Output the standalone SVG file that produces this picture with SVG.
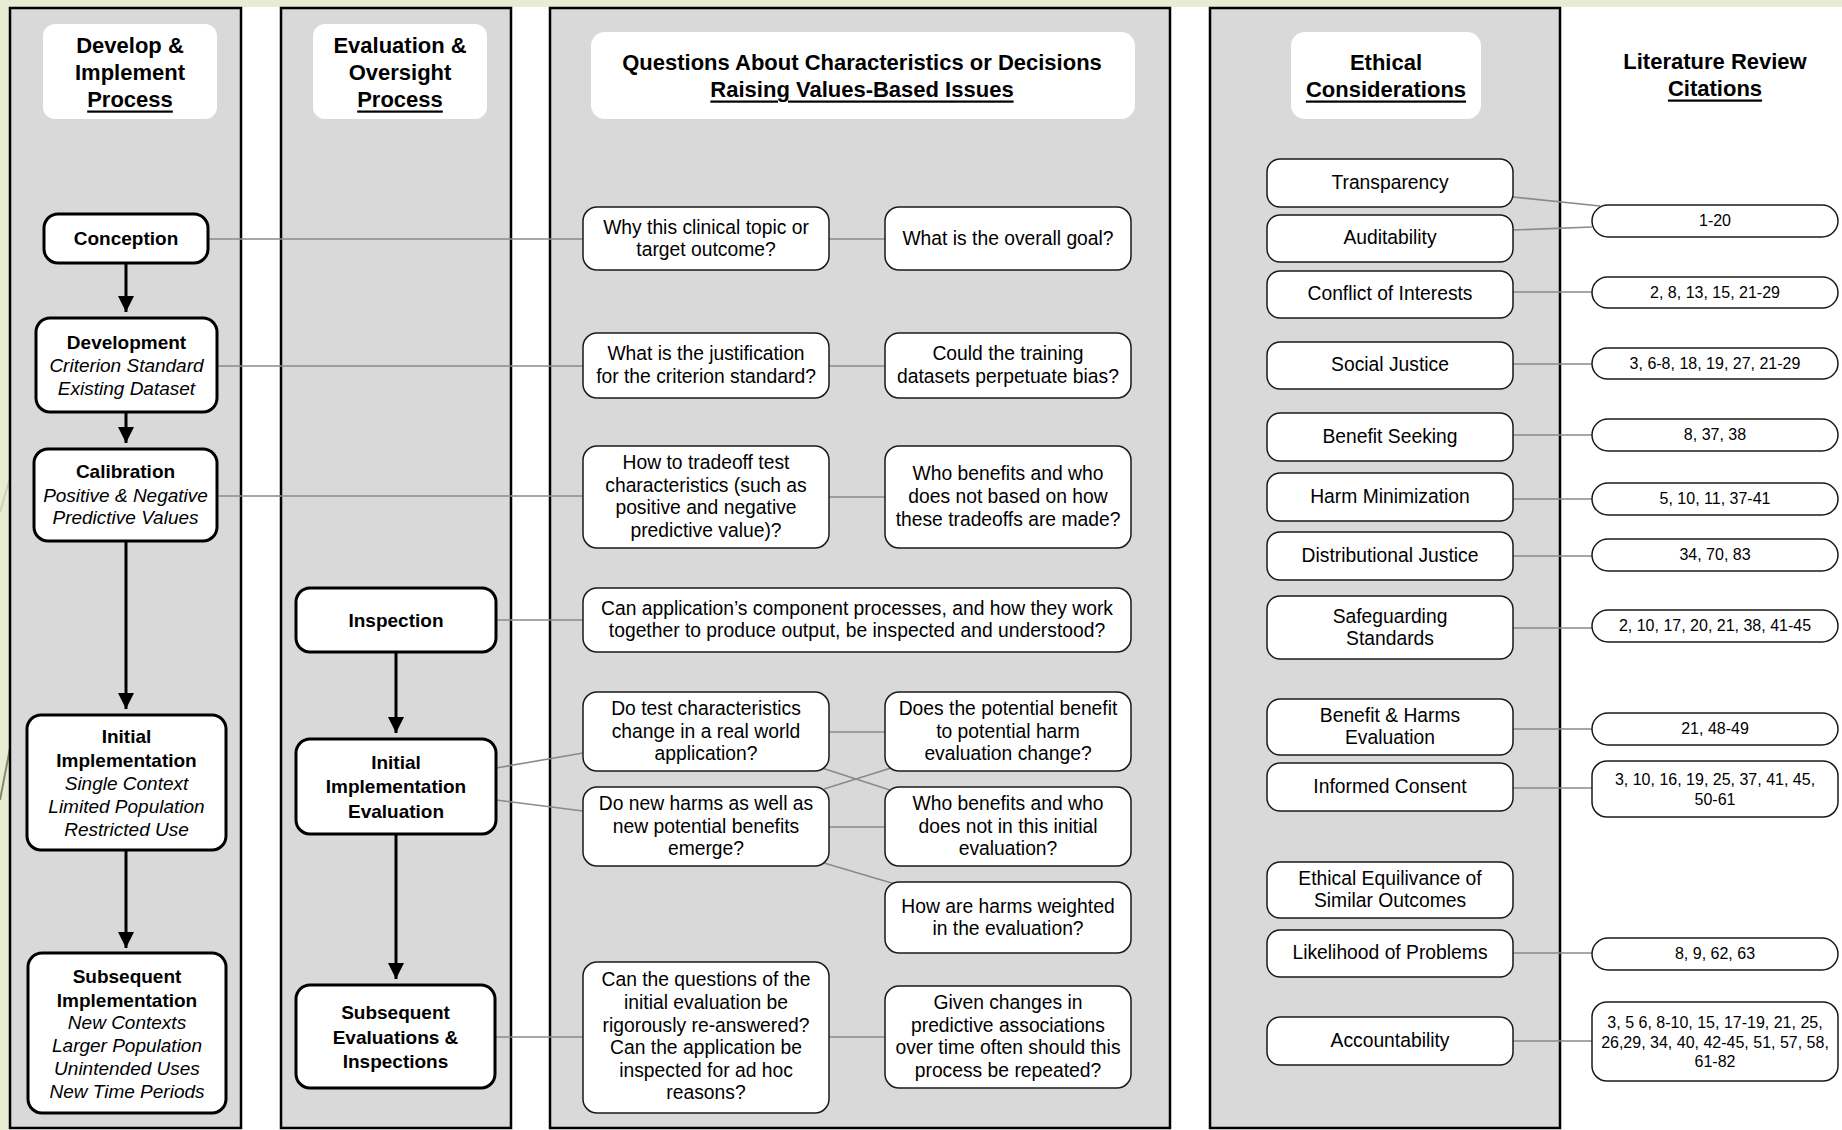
<svg xmlns="http://www.w3.org/2000/svg" width="1842" height="1130" viewBox="0 0 1842 1130">
<defs>
<style>
text{font-family:"Liberation Sans",Arial,sans-serif;text-anchor:middle;dominant-baseline:central;fill:#000;transform:translateY(-1px)}
.panel{fill:#d9d9d9;stroke:#000;stroke-width:2.5}
.hbox{fill:#fff;stroke:none}
.hdr{font-size:22px;font-weight:bold}
.u{text-decoration:underline}
.pnode{fill:#fff;stroke:#000;stroke-width:3}
.pb{font-size:19px;font-weight:bold}
.pi{font-size:19px;font-style:italic}
.qnode{fill:#fff;stroke:#1a1a1a;stroke-width:1.5}
.q{font-size:19.3px}
.c{font-size:16px}
.conn line{stroke:#8a8a8a;stroke-width:1.6}
.arr line{stroke:#000;stroke-width:3}
</style>
<marker id="ah" markerWidth="16" markerHeight="18" refX="16" refY="9" orient="auto" markerUnits="userSpaceOnUse">
<path d="M0,1 L16,9 L0,17 Z" fill="#000"/>
</marker>
</defs>
<rect x="0" y="0" width="1842" height="1130" fill="#fff"/>
<rect x="0" y="0" width="1842" height="7" fill="#e8ecd4"/>
<rect x="0" y="0" width="10" height="1130" fill="#e8ecd4"/>
<line x1="0" y1="512" x2="10" y2="478" stroke="#cfd0b8" stroke-width="2"/>
<line x1="0" y1="800" x2="10" y2="748" stroke="#8c876a" stroke-width="2"/>

<g id="panels">
<rect class="panel" x="10" y="8" width="231" height="1120"/>
<rect class="panel" x="281" y="8" width="230" height="1120"/>
<rect class="panel" x="550" y="8" width="620" height="1120"/>
<rect class="panel" x="1210" y="8" width="350" height="1120"/>
</g>

<g id="headers">
<rect class="hbox" x="43" y="24" width="174" height="95" rx="12"/>
<text class="hdr" x="130" y="46">Develop &amp;</text>
<text class="hdr" x="130" y="73">Implement</text>
<text class="hdr u" x="130" y="100">Process</text>
<rect class="hbox" x="313" y="24" width="174" height="95" rx="12"/>
<text class="hdr" x="400" y="46">Evaluation &amp;</text>
<text class="hdr" x="400" y="73">Oversight</text>
<text class="hdr u" x="400" y="100">Process</text>
<rect class="hbox" x="591" y="32" width="544" height="87" rx="14"/>
<text class="hdr" x="862" y="63">Questions About Characteristics or Decisions</text>
<text class="hdr u" x="862" y="90">Raising Values-Based Issues</text>
<rect class="hbox" x="1291" y="32" width="190" height="87" rx="14"/>
<text class="hdr" x="1386" y="63">Ethical</text>
<text class="hdr u" x="1386" y="90">Considerations</text>
<text class="hdr" x="1715" y="62">Literature Review</text>
<text class="hdr u" x="1715" y="89">Citations</text>
</g>

<g id="connectors" class="conn">
<line x1="208" y1="239" x2="583" y2="239"/>
<line x1="829" y1="239" x2="885" y2="239"/>
<line x1="217" y1="366" x2="583" y2="366"/>
<line x1="829" y1="366" x2="885" y2="366"/>
<line x1="217" y1="496" x2="583" y2="496"/>
<line x1="829" y1="497" x2="885" y2="497"/>
<line x1="496" y1="620" x2="583" y2="620"/>
<line x1="496" y1="768" x2="583" y2="753"/>
<line x1="496" y1="800" x2="583" y2="811"/>
<line x1="829" y1="732" x2="885" y2="732"/>
<line x1="822" y1="768" x2="893" y2="791"/>
<line x1="824" y1="789" x2="891" y2="768"/>
<line x1="829" y1="827" x2="885" y2="827"/>
<line x1="824" y1="863" x2="895" y2="884"/>
<line x1="495" y1="1037" x2="583" y2="1037"/>
<line x1="829" y1="1037" x2="885" y2="1037"/>
<line x1="1513" y1="197" x2="1600" y2="206"/>
<line x1="1513" y1="230" x2="1592" y2="227"/>
<line x1="1513" y1="292" x2="1592" y2="292"/>
<line x1="1513" y1="364" x2="1592" y2="364"/>
<line x1="1513" y1="435" x2="1592" y2="435"/>
<line x1="1513" y1="499" x2="1592" y2="499"/>
<line x1="1513" y1="556" x2="1592" y2="556"/>
<line x1="1513" y1="628" x2="1592" y2="628"/>
<line x1="1513" y1="729" x2="1592" y2="729"/>
<line x1="1513" y1="788" x2="1592" y2="788"/>
<line x1="1513" y1="953" x2="1592" y2="953"/>
<line x1="1513" y1="1041" x2="1592" y2="1041"/>
</g>

<g id="arrows" class="arr">
<line x1="126" y1="263" x2="126" y2="312" marker-end="url(#ah)"/>
<line x1="126" y1="412" x2="126" y2="443" marker-end="url(#ah)"/>
<line x1="126" y1="541" x2="126" y2="709" marker-end="url(#ah)"/>
<line x1="126" y1="850" x2="126" y2="948" marker-end="url(#ah)"/>
<line x1="396" y1="652" x2="396" y2="733" marker-end="url(#ah)"/>
<line x1="396" y1="834" x2="396" y2="979" marker-end="url(#ah)"/>
</g>

<g id="n-conception"><rect class="pnode" x="44" y="214" width="164" height="49" rx="14"/><text class="pb" x="126" y="239">Conception</text></g>
<g id="n-development"><rect class="pnode" x="36" y="318" width="181" height="94" rx="14"/><text class="pb" x="126.5" y="343">Development</text><text class="pi" x="126.5" y="366">Criterion Standard</text><text class="pi" x="126.5" y="389">Existing Dataset</text></g>
<g id="n-calibration"><rect class="pnode" x="34" y="449" width="183" height="92" rx="14"/><text class="pb" x="125.5" y="472">Calibration</text><text class="pi" x="125.5" y="496">Positive &amp; Negative</text><text class="pi" x="125.5" y="518">Predictive Values</text></g>
<g id="n-initial-impl"><rect class="pnode" x="27" y="715" width="199" height="135" rx="14"/><text class="pb" x="126.5" y="737">Initial</text><text class="pb" x="126.5" y="761">Implementation</text><text class="pi" x="126.5" y="784">Single Context</text><text class="pi" x="126.5" y="807">Limited Population</text><text class="pi" x="126.5" y="830">Restricted Use</text></g>
<g id="n-subsequent-impl"><rect class="pnode" x="28" y="953" width="198" height="160" rx="14"/><text class="pb" x="127" y="977">Subsequent</text><text class="pb" x="127" y="1001">Implementation</text><text class="pi" x="127" y="1023">New Contexts</text><text class="pi" x="127" y="1046">Larger Population</text><text class="pi" x="127" y="1069">Unintended Uses</text><text class="pi" x="127" y="1092">New Time Periods</text></g>

<g id="n-inspection"><rect class="pnode" x="296" y="588" width="200" height="64" rx="14"/><text class="pb" x="396" y="621">Inspection</text></g>
<g id="n-initial-eval"><rect class="pnode" x="296" y="739" width="200" height="95" rx="14"/><text class="pb" x="396" y="763">Initial</text><text class="pb" x="396" y="787">Implementation</text><text class="pb" x="396" y="812">Evaluation</text></g>
<g id="n-subsequent-eval"><rect class="pnode" x="296" y="985" width="199" height="103" rx="14"/><text class="pb" x="395.5" y="1013">Subsequent</text><text class="pb" x="395.5" y="1038">Evaluations &amp;</text><text class="pb" x="395.5" y="1062">Inspections</text></g>

<g id="q1a"><rect class="qnode" x="583" y="207" width="246" height="63" rx="14"/><text class="q" x="706" y="228">Why this clinical topic or</text><text class="q" x="706" y="250">target outcome?</text></g>
<g id="q1b"><rect class="qnode" x="885" y="207" width="246" height="63" rx="14"/><text class="q" x="1008" y="239">What is the overall goal?</text></g>
<g id="q2a"><rect class="qnode" x="583" y="333" width="246" height="65" rx="14"/><text class="q" x="706" y="354">What is the justification</text><text class="q" x="706" y="377">for the criterion standard?</text></g>
<g id="q2b"><rect class="qnode" x="885" y="333" width="246" height="65" rx="14"/><text class="q" x="1008" y="354">Could the training</text><text class="q" x="1008" y="377">datasets perpetuate bias?</text></g>
<g id="q3a"><rect class="qnode" x="583" y="446" width="246" height="102" rx="14"/><text class="q" x="706" y="463">How to tradeoff test</text><text class="q" x="706" y="486">characteristics (such as</text><text class="q" x="706" y="508">positive and negative</text><text class="q" x="706" y="531">predictive value)?</text></g>
<g id="q3b"><rect class="qnode" x="885" y="446" width="246" height="102" rx="14"/><text class="q" x="1008" y="474">Who benefits and who</text><text class="q" x="1008" y="497">does not based on how</text><text class="q" x="1008" y="520">these tradeoffs are made?</text></g>
<g id="q4"><rect class="qnode" x="583" y="588" width="548" height="64" rx="14"/><text class="q" x="857" y="609">Can application’s component processes, and how they work</text><text class="q" x="857" y="631">together to produce output, be inspected and understood?</text></g>
<g id="q5a"><rect class="qnode" x="583" y="692" width="246" height="79" rx="14"/><text class="q" x="706" y="709">Do test characteristics</text><text class="q" x="706" y="732">change in a real world</text><text class="q" x="706" y="754">application?</text></g>
<g id="q5b"><rect class="qnode" x="885" y="692" width="246" height="79" rx="14"/><text class="q" x="1008" y="709">Does the potential benefit</text><text class="q" x="1008" y="732">to potential harm</text><text class="q" x="1008" y="754">evaluation change?</text></g>
<g id="q6a"><rect class="qnode" x="583" y="787" width="246" height="79" rx="14"/><text class="q" x="706" y="804">Do new harms as well as</text><text class="q" x="706" y="827">new potential benefits</text><text class="q" x="706" y="849">emerge?</text></g>
<g id="q6b"><rect class="qnode" x="885" y="787" width="246" height="79" rx="14"/><text class="q" x="1008" y="804">Who benefits and who</text><text class="q" x="1008" y="827">does not in this initial</text><text class="q" x="1008" y="849">evaluation?</text></g>
<g id="q7"><rect class="qnode" x="885" y="882" width="246" height="71" rx="14"/><text class="q" x="1008" y="907">How are harms weighted</text><text class="q" x="1008" y="929">in the evaluation?</text></g>
<g id="q8a"><rect class="qnode" x="583" y="962" width="246" height="151" rx="14"/><text class="q" x="706" y="980">Can the questions of the</text><text class="q" x="706" y="1003">initial evaluation be</text><text class="q" x="706" y="1026">rigorously re-answered?</text><text class="q" x="706" y="1048">Can the application be</text><text class="q" x="706" y="1071">inspected for ad hoc</text><text class="q" x="706" y="1093">reasons?</text></g>
<g id="q8b"><rect class="qnode" x="885" y="986" width="246" height="102" rx="14"/><text class="q" x="1008" y="1003">Given changes in</text><text class="q" x="1008" y="1026">predictive associations</text><text class="q" x="1008" y="1048">over time often should this</text><text class="q" x="1008" y="1071">process be repeated?</text></g>

<g id="e-transparency"><rect class="qnode" x="1267" y="159" width="246" height="48" rx="13"/><text class="q" x="1390" y="183">Transparency</text></g>
<g id="e-auditability"><rect class="qnode" x="1267" y="215" width="246" height="47" rx="13"/><text class="q" x="1390" y="238">Auditability</text></g>
<g id="e-conflict"><rect class="qnode" x="1267" y="271" width="246" height="47" rx="13"/><text class="q" x="1390" y="294">Conflict of Interests</text></g>
<g id="e-social"><rect class="qnode" x="1267" y="342" width="246" height="47" rx="13"/><text class="q" x="1390" y="365">Social Justice</text></g>
<g id="e-benefit"><rect class="qnode" x="1267" y="413" width="246" height="48" rx="13"/><text class="q" x="1390" y="437">Benefit Seeking</text></g>
<g id="e-harm"><rect class="qnode" x="1267" y="473" width="246" height="48" rx="13"/><text class="q" x="1390" y="497">Harm Minimization</text></g>
<g id="e-distributional"><rect class="qnode" x="1267" y="532" width="246" height="48" rx="13"/><text class="q" x="1390" y="556">Distributional Justice</text></g>
<g id="e-safeguarding"><rect class="qnode" x="1267" y="596" width="246" height="63" rx="13"/><text class="q" x="1390" y="617">Safeguarding</text><text class="q" x="1390" y="639">Standards</text></g>
<g id="e-benefit-harms"><rect class="qnode" x="1267" y="699" width="246" height="56" rx="13"/><text class="q" x="1390" y="716">Benefit &amp; Harms</text><text class="q" x="1390" y="738">Evaluation</text></g>
<g id="e-consent"><rect class="qnode" x="1267" y="763" width="246" height="48" rx="13"/><text class="q" x="1390" y="787">Informed Consent</text></g>
<g id="e-equivalence"><rect class="qnode" x="1267" y="862" width="246" height="56" rx="13"/><text class="q" x="1390" y="879">Ethical Equilivance of</text><text class="q" x="1390" y="901">Similar Outcomes</text></g>
<g id="e-likelihood"><rect class="qnode" x="1267" y="930" width="246" height="47" rx="13"/><text class="q" x="1390" y="953">Likelihood of Problems</text></g>
<g id="e-accountability"><rect class="qnode" x="1267" y="1017" width="246" height="48" rx="13"/><text class="q" x="1390" y="1041">Accountability</text></g>

<g id="c1"><rect class="qnode" x="1592" y="205" width="246" height="32" rx="16"/><text class="c" x="1715" y="221">1-20</text></g>
<g id="c2"><rect class="qnode" x="1592" y="277" width="246" height="31" rx="15.5"/><text class="c" x="1715" y="293">2, 8, 13, 15, 21-29</text></g>
<g id="c3"><rect class="qnode" x="1592" y="348" width="246" height="31" rx="15.5"/><text class="c" x="1715" y="364">3, 6-8, 18, 19, 27, 21-29</text></g>
<g id="c4"><rect class="qnode" x="1592" y="419" width="246" height="32" rx="16"/><text class="c" x="1715" y="435">8, 37, 38</text></g>
<g id="c5"><rect class="qnode" x="1592" y="483" width="246" height="32" rx="16"/><text class="c" x="1715" y="499">5, 10, 11, 37-41</text></g>
<g id="c6"><rect class="qnode" x="1592" y="539" width="246" height="32" rx="16"/><text class="c" x="1715" y="555">34, 70, 83</text></g>
<g id="c7"><rect class="qnode" x="1592" y="610" width="246" height="32" rx="16"/><text class="c" x="1715" y="626">2, 10, 17, 20, 21, 38, 41-45</text></g>
<g id="c8"><rect class="qnode" x="1592" y="713" width="246" height="32" rx="16"/><text class="c" x="1715" y="729">21, 48-49</text></g>
<g id="c9"><rect class="qnode" x="1592" y="761" width="246" height="56" rx="15"/><text class="c" x="1715" y="780">3, 10, 16, 19, 25, 37, 41, 45,</text><text class="c" x="1715" y="800">50-61</text></g>
<g id="c10"><rect class="qnode" x="1592" y="938" width="246" height="32" rx="16"/><text class="c" x="1715" y="954">8, 9, 62, 63</text></g>
<g id="c11"><rect class="qnode" x="1592" y="1002" width="246" height="79" rx="15"/><text class="c" x="1715" y="1023">3, 5 6, 8-10, 15, 17-19, 21, 25,</text><text class="c" x="1715" y="1043">26,29, 34, 40, 42-45, 51, 57, 58,</text><text class="c" x="1715" y="1062">61-82</text></g>
</svg>
